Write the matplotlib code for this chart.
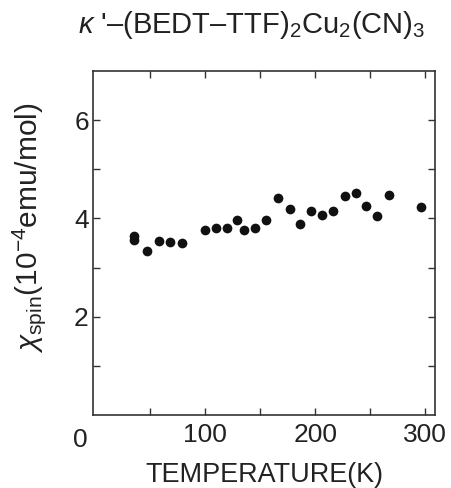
import matplotlib
matplotlib.use("Agg")
import matplotlib.pyplot as plt

plt.rcParams['font.family'] = ['Liberation Sans', 'DejaVu Sans']
plt.rcParams['mathtext.fontset'] = 'custom'
plt.rcParams['mathtext.rm'] = 'Liberation Sans'
plt.rcParams['mathtext.it'] = 'Liberation Sans:italic'
plt.rcParams['mathtext.bf'] = 'Liberation Sans:bold'

temperature = [35, 35, 47, 58, 68, 79, 100, 110, 120, 129, 135, 145, 155,
               166, 177, 186, 196, 206, 216, 227, 237, 246, 256, 267, 296]
chi_spin = [3.65, 3.57, 3.33, 3.55, 3.52, 3.50, 3.76, 3.80, 3.80, 3.96, 3.77,
            3.80, 3.96, 4.41, 4.20, 3.89, 4.16, 4.06, 4.16, 4.45, 4.52, 4.26,
            4.05, 4.47, 4.24]

x_major = [100, 200, 300]
x_minor = [50, 150, 250]
y_major = [2, 4, 6]
y_minor = [1, 3, 5]

W, H = 451, 488
fig = plt.figure(figsize=(W/100, H/100), dpi=100)
ax = fig.add_axes([93/W, (H-415)/H, (435-93)/W, (415-71)/H])
ax.plot(temperature, chi_spin, 'o', color='#111111', markersize=7, markeredgewidth=0)
ax.set_xlim(-2, 309)
ax.set_ylim(0, 7)
ax.set_xticks(x_major)
ax.set_xticks(x_minor, minor=True)
ax.set_yticks(y_major)
ax.set_yticks(y_minor, minor=True)
ax.tick_params(which='both', direction='in', top=True, right=True, length=5,
               width=1.0, color='#333333', labelsize=19, labelcolor='#222222')
ax.tick_params(axis='x', pad=6)
ax.tick_params(axis='y', pad=3)
for s in ax.spines.values():
    s.set_linewidth(1.2)
    s.set_color('#333333')

origin = fig.text(80.5/W, 1 - 447/H, '0', fontsize=19, ha='center', va='baseline', color='#222222')
xl = fig.text(264/W, 1 - 482/H, 'TEMPERATURE(K)', fontsize=20, ha='center', va='baseline', color='#222222')
yl = fig.text(29/W, 1 - 227.5/H, r'$\chi_{\rm spin}$(10$^{-4}$emu/mol)', fontsize=19,
              rotation=90, ha='center', va='center', color='#222222')
title = fig.text(78/W, 1 - 33/H, "$\\kappa$ '\u2013(BEDT\u2013TTF)$_2$Cu$_2$(CN)$_3$", fontsize=21,
                 ha='left', va='baseline', color='#222222')

fig.canvas.draw()
r = fig.canvas.get_renderer()
def fit(t, target, dim):
    bb = t.get_window_extent(r)
    cur = bb.width if dim == 'w' else bb.height
    t.set_fontsize(t.get_fontsize() * target / cur)
fit(xl, 238, 'w')
fit(yl, 251, 'h')

fig.savefig('out.png', dpi=100)
